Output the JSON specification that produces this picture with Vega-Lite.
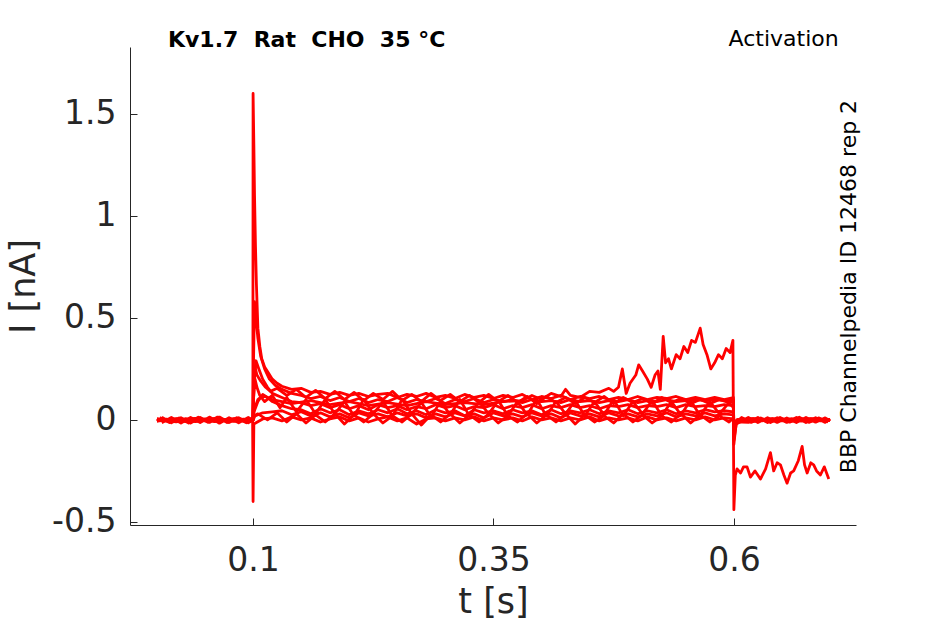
{
  "$schema": "https://vega.github.io/schema/vega-lite/v6.json",
  "width": 726,
  "height": 478,
  "autosize": {"type": "none"},
  "padding": {"left": 130, "top": 47, "right": 89, "bottom": 99},
  "background": "white",
  "config": {
    "view": {"stroke": null},
    "font": "DejaVu Sans",
    "axis": {
      "grid": false,
      "domainColor": "#262626",
      "tickColor": "#262626",
      "labelColor": "#262626",
      "titleColor": "#262626",
      "labelFont": "DejaVu Sans",
      "titleFont": "DejaVu Sans",
      "labelFontSize": 33,
      "titleFontSize": 35,
      "titleFontWeight": "normal",
      "tickSize": -7
    }
  },
  "layer": [
    {
      "data": {
        "values": [
          {"k":1,"t":0,"i":0.004},{"k":1,"t":0.01,"i":-0.006},{"k":1,"t":0.02,"i":0.005},{"k":1,"t":0.03,"i":-0.008},{"k":1,"t":0.04,"i":0.003},{"k":1,"t":0.05,"i":-0.005},{"k":1,"t":0.06,"i":0.006},{"k":1,"t":0.07,"i":-0.004},{"k":1,"t":0.08,"i":0.005},{"k":1,"t":0.09,"i":-0.006},{"k":1,"t":0.0998,"i":0.002},
          {"k":1,"t":0.1,"i":1.6},{"k":1,"t":0.1008,"i":1.35},{"k":1,"t":0.1015,"i":1.1},{"k":1,"t":0.1025,"i":0.85},{"k":1,"t":0.1035,"i":0.66},{"k":1,"t":0.105,"i":0.45},{"k":1,"t":0.107,"i":0.36},{"k":1,"t":0.109,"i":0.3},{"k":1,"t":0.112,"i":0.26},{"k":1,"t":0.116,"i":0.23},{"k":1,"t":0.12,"i":0.2},{"k":1,"t":0.125,"i":0.18},{"k":1,"t":0.13,"i":0.165},{"k":1,"t":0.14,"i":0.15},{"k":1,"t":0.15,"i":0.155},{"k":1,"t":0.16,"i":0.135},{"k":1,"t":0.17,"i":0.14},{"k":1,"t":0.18,"i":0.125},{"k":1,"t":0.19,"i":0.135},{"k":1,"t":0.2,"i":0.12},{"k":1,"t":0.21,"i":0.13},{"k":1,"t":0.22,"i":0.115},{"k":1,"t":0.23,"i":0.125},{"k":1,"t":0.24,"i":0.13},{"k":1,"t":0.25,"i":0.11},{"k":1,"t":0.26,"i":0.125},{"k":1,"t":0.27,"i":0.115},{"k":1,"t":0.28,"i":0.13},{"k":1,"t":0.29,"i":0.11},{"k":1,"t":0.3,"i":0.12},{"k":1,"t":0.31,"i":0.105},{"k":1,"t":0.32,"i":0.125},{"k":1,"t":0.33,"i":0.11},{"k":1,"t":0.34,"i":0.12},{"k":1,"t":0.35,"i":0.105},{"k":1,"t":0.36,"i":0.12},{"k":1,"t":0.37,"i":0.11},{"k":1,"t":0.38,"i":0.125},{"k":1,"t":0.39,"i":0.1},{"k":1,"t":0.4,"i":0.115},{"k":1,"t":0.41,"i":0.105},{"k":1,"t":0.42,"i":0.12},{"k":1,"t":0.43,"i":0.1},{"k":1,"t":0.44,"i":0.115},{"k":1,"t":0.45,"i":0.105},{"k":1,"t":0.46,"i":0.115},{"k":1,"t":0.47,"i":0.1},{"k":1,"t":0.48,"i":0.11},{"k":1,"t":0.49,"i":0.1},{"k":1,"t":0.5,"i":0.115},{"k":1,"t":0.51,"i":0.1},{"k":1,"t":0.52,"i":0.11},{"k":1,"t":0.53,"i":0.105},{"k":1,"t":0.54,"i":0.115},{"k":1,"t":0.55,"i":0.1},{"k":1,"t":0.56,"i":0.11},{"k":1,"t":0.57,"i":0.1},{"k":1,"t":0.58,"i":0.11},{"k":1,"t":0.59,"i":0.1},{"k":1,"t":0.5995,"i":0.11},
          {"k":1,"t":0.6,"i":-0.08},{"k":1,"t":0.602,"i":-0.01},{"k":1,"t":0.61,"i":0.005},{"k":1,"t":0.62,"i":-0.006},{"k":1,"t":0.63,"i":0.004},{"k":1,"t":0.64,"i":-0.005},{"k":1,"t":0.65,"i":0.005},{"k":1,"t":0.66,"i":-0.004},{"k":1,"t":0.67,"i":0.006},{"k":1,"t":0.68,"i":-0.005},{"k":1,"t":0.69,"i":0.004},{"k":1,"t":0.7,"i":-0.003},

          {"k":2,"t":0,"i":-0.005},{"k":2,"t":0.01,"i":0.004},{"k":2,"t":0.02,"i":-0.007},{"k":2,"t":0.03,"i":0.006},{"k":2,"t":0.04,"i":-0.004},{"k":2,"t":0.05,"i":0.005},{"k":2,"t":0.06,"i":-0.008},{"k":2,"t":0.07,"i":0.003},{"k":2,"t":0.08,"i":-0.006},{"k":2,"t":0.09,"i":0.004},{"k":2,"t":0.0998,"i":-0.002},
          {"k":2,"t":0.1005,"i":0.3},{"k":2,"t":0.1015,"i":0.58},{"k":2,"t":0.103,"i":0.5},{"k":2,"t":0.105,"i":0.4},{"k":2,"t":0.108,"i":0.31},{"k":2,"t":0.112,"i":0.25},{"k":2,"t":0.117,"i":0.2},{"k":2,"t":0.123,"i":0.17},{"k":2,"t":0.13,"i":0.15},{"k":2,"t":0.14,"i":0.13},{"k":2,"t":0.15,"i":0.12},{"k":2,"t":0.16,"i":0.105},{"k":2,"t":0.17,"i":0.115},{"k":2,"t":0.18,"i":0.095},{"k":2,"t":0.19,"i":0.11},{"k":2,"t":0.2,"i":0.09},{"k":2,"t":0.21,"i":0.105},{"k":2,"t":0.22,"i":0.085},{"k":2,"t":0.23,"i":0.1},{"k":2,"t":0.24,"i":0.09},{"k":2,"t":0.25,"i":0.11},{"k":2,"t":0.26,"i":0.085},{"k":2,"t":0.27,"i":0.1},{"k":2,"t":0.28,"i":0.09},{"k":2,"t":0.29,"i":0.105},{"k":2,"t":0.3,"i":0.08},{"k":2,"t":0.31,"i":0.1},{"k":2,"t":0.32,"i":0.09},{"k":2,"t":0.33,"i":0.105},{"k":2,"t":0.34,"i":0.085},{"k":2,"t":0.35,"i":0.1},{"k":2,"t":0.36,"i":0.09},{"k":2,"t":0.37,"i":0.1},{"k":2,"t":0.38,"i":0.085},{"k":2,"t":0.39,"i":0.1},{"k":2,"t":0.4,"i":0.09},{"k":2,"t":0.41,"i":0.095},{"k":2,"t":0.42,"i":0.085},{"k":2,"t":0.43,"i":0.1},{"k":2,"t":0.44,"i":0.09},{"k":2,"t":0.45,"i":0.095},{"k":2,"t":0.46,"i":0.085},{"k":2,"t":0.47,"i":0.095},{"k":2,"t":0.48,"i":0.09},{"k":2,"t":0.49,"i":0.1},{"k":2,"t":0.5,"i":0.085},{"k":2,"t":0.51,"i":0.095},{"k":2,"t":0.52,"i":0.09},{"k":2,"t":0.53,"i":0.1},{"k":2,"t":0.54,"i":0.09},{"k":2,"t":0.55,"i":0.095},{"k":2,"t":0.56,"i":0.1},{"k":2,"t":0.57,"i":0.095},{"k":2,"t":0.58,"i":0.1},{"k":2,"t":0.59,"i":0.095},{"k":2,"t":0.5995,"i":0.1},
          {"k":2,"t":0.6,"i":-0.05},{"k":2,"t":0.603,"i":0},{"k":2,"t":0.61,"i":-0.006},{"k":2,"t":0.62,"i":0.005},{"k":2,"t":0.63,"i":-0.004},{"k":2,"t":0.64,"i":0.006},{"k":2,"t":0.65,"i":-0.005},{"k":2,"t":0.66,"i":0.004},{"k":2,"t":0.67,"i":-0.006},{"k":2,"t":0.68,"i":0.005},{"k":2,"t":0.69,"i":-0.004},{"k":2,"t":0.7,"i":0.003},

          {"k":3,"t":0,"i":0.006},{"k":3,"t":0.02,"i":-0.006},{"k":3,"t":0.04,"i":0.004},{"k":3,"t":0.06,"i":-0.005},{"k":3,"t":0.08,"i":0.005},{"k":3,"t":0.0998,"i":0},
          {"k":3,"t":0.101,"i":0.18},{"k":3,"t":0.103,"i":0.29},{"k":3,"t":0.106,"i":0.25},{"k":3,"t":0.11,"i":0.2},{"k":3,"t":0.115,"i":0.16},{"k":3,"t":0.12,"i":0.13},{"k":3,"t":0.13,"i":0.11},{"k":3,"t":0.14,"i":0.09},{"k":3,"t":0.15,"i":0.085},{"k":3,"t":0.16,"i":0.07},{"k":3,"t":0.17,"i":0.08},{"k":3,"t":0.18,"i":0.06},{"k":3,"t":0.19,"i":0.075},{"k":3,"t":0.2,"i":0.055},{"k":3,"t":0.21,"i":0.07},{"k":3,"t":0.22,"i":0.05},{"k":3,"t":0.23,"i":0.075},{"k":3,"t":0.24,"i":0.06},{"k":3,"t":0.25,"i":0.07},{"k":3,"t":0.26,"i":0.05},{"k":3,"t":0.27,"i":0.065},{"k":3,"t":0.28,"i":0.055},{"k":3,"t":0.29,"i":0.075},{"k":3,"t":0.3,"i":0.06},{"k":3,"t":0.31,"i":0.07},{"k":3,"t":0.32,"i":0.05},{"k":3,"t":0.33,"i":0.065},{"k":3,"t":0.34,"i":0.06},{"k":3,"t":0.35,"i":0.075},{"k":3,"t":0.36,"i":0.055},{"k":3,"t":0.37,"i":0.07},{"k":3,"t":0.38,"i":0.06},{"k":3,"t":0.39,"i":0.075},{"k":3,"t":0.4,"i":0.055},{"k":3,"t":0.41,"i":0.07},{"k":3,"t":0.42,"i":0.06},{"k":3,"t":0.43,"i":0.075},{"k":3,"t":0.44,"i":0.06},{"k":3,"t":0.45,"i":0.07},{"k":3,"t":0.46,"i":0.055},{"k":3,"t":0.47,"i":0.07},{"k":3,"t":0.48,"i":0.065},{"k":3,"t":0.49,"i":0.075},{"k":3,"t":0.5,"i":0.06},{"k":3,"t":0.51,"i":0.07},{"k":3,"t":0.52,"i":0.065},{"k":3,"t":0.53,"i":0.075},{"k":3,"t":0.54,"i":0.06},{"k":3,"t":0.55,"i":0.075},{"k":3,"t":0.56,"i":0.065},{"k":3,"t":0.57,"i":0.07},{"k":3,"t":0.58,"i":0.065},{"k":3,"t":0.59,"i":0.075},{"k":3,"t":0.5995,"i":0.07},
          {"k":3,"t":0.6,"i":-0.03},{"k":3,"t":0.604,"i":0},{"k":3,"t":0.62,"i":0.005},{"k":3,"t":0.64,"i":-0.005},{"k":3,"t":0.66,"i":0.004},{"k":3,"t":0.68,"i":-0.004},{"k":3,"t":0.7,"i":0.002},

          {"k":4,"t":0,"i":-0.004},{"k":4,"t":0.02,"i":0.005},{"k":4,"t":0.04,"i":-0.008},{"k":4,"t":0.06,"i":0.004},{"k":4,"t":0.08,"i":-0.006},{"k":4,"t":0.0998,"i":0.002},
          {"k":4,"t":0.101,"i":0.04},{"k":4,"t":0.105,"i":0.09},{"k":4,"t":0.11,"i":0.125},{"k":4,"t":0.115,"i":0.11},{"k":4,"t":0.12,"i":0.09},{"k":4,"t":0.13,"i":0.07},{"k":4,"t":0.14,"i":0.055},{"k":4,"t":0.15,"i":0.05},{"k":4,"t":0.16,"i":0.03},{"k":4,"t":0.17,"i":0.055},{"k":4,"t":0.18,"i":0.035},{"k":4,"t":0.19,"i":0.05},{"k":4,"t":0.2,"i":0.025},{"k":4,"t":0.21,"i":0.045},{"k":4,"t":0.22,"i":0.03},{"k":4,"t":0.23,"i":0.05},{"k":4,"t":0.24,"i":0.035},{"k":4,"t":0.25,"i":0.055},{"k":4,"t":0.26,"i":0.03},{"k":4,"t":0.27,"i":0.045},{"k":4,"t":0.28,"i":0.025},{"k":4,"t":0.29,"i":0.05},{"k":4,"t":0.3,"i":0.035},{"k":4,"t":0.31,"i":0.045},{"k":4,"t":0.32,"i":0.02},{"k":4,"t":0.33,"i":0.05},{"k":4,"t":0.34,"i":0.035},{"k":4,"t":0.35,"i":0.045},{"k":4,"t":0.36,"i":0.03},{"k":4,"t":0.37,"i":0.05},{"k":4,"t":0.38,"i":0.035},{"k":4,"t":0.39,"i":0.045},{"k":4,"t":0.4,"i":0.025},{"k":4,"t":0.41,"i":0.05},{"k":4,"t":0.42,"i":0.03},{"k":4,"t":0.43,"i":0.045},{"k":4,"t":0.44,"i":0.035},{"k":4,"t":0.45,"i":0.05},{"k":4,"t":0.46,"i":0.03},{"k":4,"t":0.47,"i":0.045},{"k":4,"t":0.48,"i":0.035},{"k":4,"t":0.49,"i":0.05},{"k":4,"t":0.5,"i":0.03},{"k":4,"t":0.51,"i":0.045},{"k":4,"t":0.52,"i":0.035},{"k":4,"t":0.53,"i":0.05},{"k":4,"t":0.54,"i":0.03},{"k":4,"t":0.55,"i":0.045},{"k":4,"t":0.56,"i":0.035},{"k":4,"t":0.57,"i":0.05},{"k":4,"t":0.58,"i":0.04},{"k":4,"t":0.59,"i":0.045},{"k":4,"t":0.5995,"i":0.04},
          {"k":4,"t":0.6,"i":-0.06},{"k":4,"t":0.603,"i":-0.005},{"k":4,"t":0.62,"i":0.006},{"k":4,"t":0.64,"i":-0.004},{"k":4,"t":0.66,"i":0.005},{"k":4,"t":0.68,"i":-0.005},{"k":4,"t":0.7,"i":0.003},

          {"k":5,"t":0,"i":0.003},{"k":5,"t":0.02,"i":-0.009},{"k":5,"t":0.04,"i":0.006},{"k":5,"t":0.06,"i":-0.004},{"k":5,"t":0.08,"i":0.004},{"k":5,"t":0.0998,"i":-0.003},
          {"k":5,"t":0.102,"i":0.02},{"k":5,"t":0.11,"i":0.035},{"k":5,"t":0.12,"i":0.04},{"k":5,"t":0.13,"i":0.045},{"k":5,"t":0.14,"i":0.025},{"k":5,"t":0.15,"i":0.04},{"k":5,"t":0.16,"i":0.02},{"k":5,"t":0.17,"i":0.035},{"k":5,"t":0.18,"i":0.015},{"k":5,"t":0.19,"i":0.03},{"k":5,"t":0.2,"i":0.01},{"k":5,"t":0.21,"i":0.035},{"k":5,"t":0.22,"i":0.02},{"k":5,"t":0.23,"i":0.03},{"k":5,"t":0.24,"i":0.015},{"k":5,"t":0.25,"i":0.035},{"k":5,"t":0.26,"i":0.02},{"k":5,"t":0.27,"i":0.03},{"k":5,"t":0.28,"i":0.01},{"k":5,"t":0.29,"i":0.03},{"k":5,"t":0.3,"i":0.015},{"k":5,"t":0.31,"i":0.035},{"k":5,"t":0.32,"i":0.02},{"k":5,"t":0.33,"i":0.03},{"k":5,"t":0.34,"i":0.01},{"k":5,"t":0.35,"i":0.035},{"k":5,"t":0.36,"i":0.02},{"k":5,"t":0.37,"i":0.03},{"k":5,"t":0.38,"i":0.015},{"k":5,"t":0.39,"i":0.035},{"k":5,"t":0.4,"i":0.02},{"k":5,"t":0.41,"i":0.03},{"k":5,"t":0.42,"i":0.01},{"k":5,"t":0.43,"i":0.035},{"k":5,"t":0.44,"i":0.02},{"k":5,"t":0.45,"i":0.03},{"k":5,"t":0.46,"i":0.015},{"k":5,"t":0.47,"i":0.035},{"k":5,"t":0.48,"i":0.02},{"k":5,"t":0.49,"i":0.03},{"k":5,"t":0.5,"i":0.015},{"k":5,"t":0.51,"i":0.03},{"k":5,"t":0.52,"i":0.02},{"k":5,"t":0.53,"i":0.035},{"k":5,"t":0.54,"i":0.015},{"k":5,"t":0.55,"i":0.03},{"k":5,"t":0.56,"i":0.02},{"k":5,"t":0.57,"i":0.035},{"k":5,"t":0.58,"i":0.02},{"k":5,"t":0.59,"i":0.03},{"k":5,"t":0.5995,"i":0.025},
          {"k":5,"t":0.6,"i":-0.02},{"k":5,"t":0.604,"i":0},{"k":5,"t":0.62,"i":-0.005},{"k":5,"t":0.64,"i":0.005},{"k":5,"t":0.66,"i":-0.006},{"k":5,"t":0.68,"i":0.004},{"k":5,"t":0.7,"i":-0.002},

          {"k":6,"t":0,"i":-0.006},{"k":6,"t":0.02,"i":0.004},{"k":6,"t":0.04,"i":-0.005},{"k":6,"t":0.06,"i":0.006},{"k":6,"t":0.08,"i":-0.005},{"k":6,"t":0.0995,"i":0.001},
          {"k":6,"t":0.1,"i":-0.4},{"k":6,"t":0.1008,"i":-0.02},{"k":6,"t":0.11,"i":0.005},{"k":6,"t":0.12,"i":0.01},{"k":6,"t":0.13,"i":-0.005},{"k":6,"t":0.14,"i":0.015},{"k":6,"t":0.15,"i":0},{"k":6,"t":0.16,"i":0.01},{"k":6,"t":0.17,"i":-0.01},{"k":6,"t":0.18,"i":0.005},{"k":6,"t":0.19,"i":0.015},{"k":6,"t":0.2,"i":-0.005},{"k":6,"t":0.21,"i":0.01},{"k":6,"t":0.22,"i":-0.01},{"k":6,"t":0.23,"i":0.005},{"k":6,"t":0.24,"i":0.015},{"k":6,"t":0.25,"i":-0.005},{"k":6,"t":0.26,"i":0.01},{"k":6,"t":0.27,"i":-0.02},{"k":6,"t":0.28,"i":0.005},{"k":6,"t":0.29,"i":0.01},{"k":6,"t":0.3,"i":-0.005},{"k":6,"t":0.31,"i":0.01},{"k":6,"t":0.32,"i":0},{"k":6,"t":0.33,"i":0.015},{"k":6,"t":0.34,"i":-0.005},{"k":6,"t":0.35,"i":0.01},{"k":6,"t":0.36,"i":0},{"k":6,"t":0.37,"i":0.01},{"k":6,"t":0.38,"i":-0.005},{"k":6,"t":0.39,"i":0.015},{"k":6,"t":0.4,"i":0},{"k":6,"t":0.41,"i":0.01},{"k":6,"t":0.42,"i":-0.005},{"k":6,"t":0.43,"i":0.01},{"k":6,"t":0.44,"i":0},{"k":6,"t":0.45,"i":0.015},{"k":6,"t":0.46,"i":-0.005},{"k":6,"t":0.47,"i":0.01},{"k":6,"t":0.48,"i":0},{"k":6,"t":0.49,"i":0.01},{"k":6,"t":0.5,"i":-0.005},{"k":6,"t":0.51,"i":0.015},{"k":6,"t":0.52,"i":0},{"k":6,"t":0.53,"i":0.01},{"k":6,"t":0.54,"i":-0.005},{"k":6,"t":0.55,"i":0.01},{"k":6,"t":0.56,"i":0},{"k":6,"t":0.57,"i":0.015},{"k":6,"t":0.58,"i":0},{"k":6,"t":0.59,"i":0.01},{"k":6,"t":0.5995,"i":0.005},
          {"k":6,"t":0.6,"i":-0.02},{"k":6,"t":0.604,"i":0.002},{"k":6,"t":0.62,"i":-0.006},{"k":6,"t":0.64,"i":0.004},{"k":6,"t":0.66,"i":-0.005},{"k":6,"t":0.68,"i":0.006},{"k":6,"t":0.7,"i":0},

          {"k":7,"t":0,"i":0.002},{"k":7,"t":0.02,"i":-0.006},{"k":7,"t":0.04,"i":0.007},{"k":7,"t":0.06,"i":-0.006},{"k":7,"t":0.08,"i":0.003},{"k":7,"t":0.0998,"i":-0.004},
          {"k":7,"t":0.101,"i":0.05},{"k":7,"t":0.105,"i":0.1},{"k":7,"t":0.11,"i":0.12},{"k":7,"t":0.12,"i":0.1},{"k":7,"t":0.13,"i":0.09},{"k":7,"t":0.14,"i":0.08},{"k":7,"t":0.16,"i":0.095},{"k":7,"t":0.18,"i":0.075},{"k":7,"t":0.2,"i":0.09},{"k":7,"t":0.22,"i":0.07},{"k":7,"t":0.24,"i":0.085},{"k":7,"t":0.26,"i":0.07},{"k":7,"t":0.28,"i":0.09},{"k":7,"t":0.3,"i":0.075},{"k":7,"t":0.32,"i":0.085},{"k":7,"t":0.34,"i":0.075},{"k":7,"t":0.36,"i":0.09},{"k":7,"t":0.38,"i":0.095},{"k":7,"t":0.39,"i":0.12},{"k":7,"t":0.4,"i":0.1},{"k":7,"t":0.41,"i":0.13},{"k":7,"t":0.42,"i":0.115},{"k":7,"t":0.425,"i":0.15},{"k":7,"t":0.43,"i":0.12},{"k":7,"t":0.44,"i":0.11},{"k":7,"t":0.45,"i":0.14},{"k":7,"t":0.46,"i":0.135},{"k":7,"t":0.47,"i":0.155},{"k":7,"t":0.475,"i":0.14},{"k":7,"t":0.48,"i":0.16},{"k":7,"t":0.484,"i":0.25},{"k":7,"t":0.488,"i":0.13},{"k":7,"t":0.492,"i":0.18},{"k":7,"t":0.498,"i":0.22},{"k":7,"t":0.501,"i":0.27},{"k":7,"t":0.505,"i":0.24},{"k":7,"t":0.51,"i":0.2},{"k":7,"t":0.514,"i":0.16},{"k":7,"t":0.518,"i":0.22},{"k":7,"t":0.521,"i":0.24},{"k":7,"t":0.5235,"i":0.15},{"k":7,"t":0.5265,"i":0.41},{"k":7,"t":0.529,"i":0.28},{"k":7,"t":0.532,"i":0.3},{"k":7,"t":0.535,"i":0.25},{"k":7,"t":0.54,"i":0.32},{"k":7,"t":0.544,"i":0.3},{"k":7,"t":0.548,"i":0.36},{"k":7,"t":0.552,"i":0.33},{"k":7,"t":0.556,"i":0.39},{"k":7,"t":0.56,"i":0.38},{"k":7,"t":0.565,"i":0.45},{"k":7,"t":0.568,"i":0.37},{"k":7,"t":0.572,"i":0.32},{"k":7,"t":0.576,"i":0.25},{"k":7,"t":0.58,"i":0.28},{"k":7,"t":0.584,"i":0.32},{"k":7,"t":0.588,"i":0.3},{"k":7,"t":0.592,"i":0.35},{"k":7,"t":0.596,"i":0.33},{"k":7,"t":0.599,"i":0.39},
          {"k":7,"t":0.6,"i":-0.44},{"k":7,"t":0.6015,"i":-0.27},{"k":7,"t":0.6033,"i":-0.24},{"k":7,"t":0.607,"i":-0.26},{"k":7,"t":0.61,"i":-0.23},{"k":7,"t":0.6137,"i":-0.23},{"k":7,"t":0.6172,"i":-0.28},{"k":7,"t":0.622,"i":-0.25},{"k":7,"t":0.6276,"i":-0.29},{"k":7,"t":0.633,"i":-0.24},{"k":7,"t":0.638,"i":-0.16},{"k":7,"t":0.6414,"i":-0.25},{"k":7,"t":0.645,"i":-0.21},{"k":7,"t":0.6484,"i":-0.22},{"k":7,"t":0.652,"i":-0.27},{"k":7,"t":0.6553,"i":-0.31},{"k":7,"t":0.659,"i":-0.26},{"k":7,"t":0.6622,"i":-0.25},{"k":7,"t":0.667,"i":-0.2},{"k":7,"t":0.671,"i":-0.13},{"k":7,"t":0.6735,"i":-0.22},{"k":7,"t":0.6762,"i":-0.26},{"k":7,"t":0.68,"i":-0.21},{"k":7,"t":0.683,"i":-0.22},{"k":7,"t":0.686,"i":-0.25},{"k":7,"t":0.69,"i":-0.27},{"k":7,"t":0.694,"i":-0.23},{"k":7,"t":0.6987,"i":-0.29},

          {"k":8,"t":0.005,"i":0.013},{"k":8,"t":0.015,"i":-0.014},{"k":8,"t":0.025,"i":0.011},{"k":8,"t":0.035,"i":-0.015},{"k":8,"t":0.045,"i":0.012},{"k":8,"t":0.055,"i":-0.012},{"k":8,"t":0.065,"i":0.014},{"k":8,"t":0.075,"i":-0.013},{"k":8,"t":0.085,"i":0.011},{"k":8,"t":0.095,"i":-0.014},{"k":8,"t":0.0999,"i":0},
          {"k":8,"t":0.1003,"i":0.15},{"k":8,"t":0.102,"i":0.26},{"k":8,"t":0.104,"i":0.22},{"k":8,"t":0.108,"i":0.19},{"k":8,"t":0.113,"i":0.16},{"k":8,"t":0.118,"i":0.14},{"k":8,"t":0.125,"i":0.155},{"k":8,"t":0.135,"i":0.12},{"k":8,"t":0.145,"i":0.15},{"k":8,"t":0.155,"i":0.11},{"k":8,"t":0.165,"i":0.145},{"k":8,"t":0.175,"i":0.105},{"k":8,"t":0.185,"i":0.14},{"k":8,"t":0.195,"i":0.1},{"k":8,"t":0.205,"i":0.135},{"k":8,"t":0.215,"i":0.095},{"k":8,"t":0.225,"i":0.13},{"k":8,"t":0.235,"i":0.1},{"k":8,"t":0.245,"i":0.14},{"k":8,"t":0.255,"i":0.095},{"k":8,"t":0.265,"i":0.125},{"k":8,"t":0.275,"i":0.09},{"k":8,"t":0.285,"i":0.13},{"k":8,"t":0.295,"i":0.095},{"k":8,"t":0.305,"i":0.125},{"k":8,"t":0.315,"i":0.09},{"k":8,"t":0.325,"i":0.12},{"k":8,"t":0.335,"i":0.085},{"k":8,"t":0.345,"i":0.125},{"k":8,"t":0.355,"i":0.09},{"k":8,"t":0.365,"i":0.12},{"k":8,"t":0.375,"i":0.085},{"k":8,"t":0.385,"i":0.115},{"k":8,"t":0.395,"i":0.08},{"k":8,"t":0.405,"i":0.115},{"k":8,"t":0.415,"i":0.085},{"k":8,"t":0.425,"i":0.11},{"k":8,"t":0.435,"i":0.08},{"k":8,"t":0.445,"i":0.11},{"k":8,"t":0.455,"i":0.085},{"k":8,"t":0.465,"i":0.115},{"k":8,"t":0.475,"i":0.08},{"k":8,"t":0.485,"i":0.11},{"k":8,"t":0.495,"i":0.085},{"k":8,"t":0.505,"i":0.105},{"k":8,"t":0.515,"i":0.08},{"k":8,"t":0.525,"i":0.11},{"k":8,"t":0.535,"i":0.085},{"k":8,"t":0.545,"i":0.105},{"k":8,"t":0.555,"i":0.08},{"k":8,"t":0.565,"i":0.1},{"k":8,"t":0.575,"i":0.08},{"k":8,"t":0.585,"i":0.1},{"k":8,"t":0.595,"i":0.085},{"k":8,"t":0.5995,"i":0.09},
          {"k":8,"t":0.6,"i":-0.1},{"k":8,"t":0.6025,"i":-0.02},{"k":8,"t":0.615,"i":0.012},{"k":8,"t":0.625,"i":-0.013},{"k":8,"t":0.635,"i":0.011},{"k":8,"t":0.645,"i":-0.012},{"k":8,"t":0.655,"i":0.01},{"k":8,"t":0.665,"i":-0.013},{"k":8,"t":0.675,"i":0.012},{"k":8,"t":0.685,"i":-0.011},{"k":8,"t":0.695,"i":0.01},{"k":8,"t":0.7,"i":-0.004},

          {"k":9,"t":0.005,"i":-0.014},{"k":9,"t":0.015,"i":0.012},{"k":9,"t":0.025,"i":-0.015},{"k":9,"t":0.035,"i":0.012},{"k":9,"t":0.045,"i":-0.013},{"k":9,"t":0.055,"i":0.014},{"k":9,"t":0.065,"i":-0.016},{"k":9,"t":0.075,"i":0.011},{"k":9,"t":0.085,"i":-0.014},{"k":9,"t":0.095,"i":0.012},{"k":9,"t":0.0999,"i":0},
          {"k":9,"t":0.101,"i":0.02},{"k":9,"t":0.105,"i":0.03},{"k":9,"t":0.115,"i":0},{"k":9,"t":0.125,"i":0.035},{"k":9,"t":0.135,"i":-0.01},{"k":9,"t":0.145,"i":0.03},{"k":9,"t":0.155,"i":-0.015},{"k":9,"t":0.165,"i":0.025},{"k":9,"t":0.175,"i":-0.01},{"k":9,"t":0.185,"i":0.03},{"k":9,"t":0.195,"i":-0.02},{"k":9,"t":0.205,"i":0.025},{"k":9,"t":0.215,"i":-0.01},{"k":9,"t":0.225,"i":0.03},{"k":9,"t":0.235,"i":-0.015},{"k":9,"t":0.245,"i":0.02},{"k":9,"t":0.255,"i":-0.01},{"k":9,"t":0.265,"i":0.03},{"k":9,"t":0.275,"i":-0.025},{"k":9,"t":0.285,"i":0.025},{"k":9,"t":0.295,"i":-0.01},{"k":9,"t":0.305,"i":0.03},{"k":9,"t":0.315,"i":-0.015},{"k":9,"t":0.325,"i":0.025},{"k":9,"t":0.335,"i":-0.01},{"k":9,"t":0.345,"i":0.03},{"k":9,"t":0.355,"i":-0.015},{"k":9,"t":0.365,"i":0.02},{"k":9,"t":0.375,"i":-0.01},{"k":9,"t":0.385,"i":0.03},{"k":9,"t":0.395,"i":-0.015},{"k":9,"t":0.405,"i":0.025},{"k":9,"t":0.415,"i":-0.01},{"k":9,"t":0.425,"i":0.03},{"k":9,"t":0.435,"i":-0.02},{"k":9,"t":0.445,"i":0.025},{"k":9,"t":0.455,"i":-0.01},{"k":9,"t":0.465,"i":0.02},{"k":9,"t":0.475,"i":-0.015},{"k":9,"t":0.485,"i":0.03},{"k":9,"t":0.495,"i":-0.01},{"k":9,"t":0.505,"i":0.025},{"k":9,"t":0.515,"i":-0.015},{"k":9,"t":0.525,"i":0.02},{"k":9,"t":0.535,"i":-0.01},{"k":9,"t":0.545,"i":0.03},{"k":9,"t":0.555,"i":-0.015},{"k":9,"t":0.565,"i":0.025},{"k":9,"t":0.575,"i":-0.01},{"k":9,"t":0.585,"i":0.02},{"k":9,"t":0.595,"i":-0.01},{"k":9,"t":0.5995,"i":0.01},
          {"k":9,"t":0.6,"i":-0.12},{"k":9,"t":0.6025,"i":-0.01},{"k":9,"t":0.615,"i":-0.012},{"k":9,"t":0.625,"i":0.012},{"k":9,"t":0.635,"i":-0.013},{"k":9,"t":0.645,"i":0.011},{"k":9,"t":0.655,"i":-0.012},{"k":9,"t":0.665,"i":0.012},{"k":9,"t":0.675,"i":-0.013},{"k":9,"t":0.685,"i":0.011},{"k":9,"t":0.695,"i":-0.012},{"k":9,"t":0.7,"i":0.003},

          {"k":10,"t":0.003,"i":0.012},{"k":10,"t":0.013,"i":-0.013},{"k":10,"t":0.023,"i":0.01},{"k":10,"t":0.033,"i":-0.015},{"k":10,"t":0.043,"i":0.013},{"k":10,"t":0.053,"i":-0.012},{"k":10,"t":0.063,"i":0.014},{"k":10,"t":0.073,"i":-0.013},{"k":10,"t":0.083,"i":0.011},{"k":10,"t":0.093,"i":-0.014},{"k":10,"t":0.0999,"i":0},
          {"k":10,"t":0.1004,"i":0.1},{"k":10,"t":0.102,"i":0.2},{"k":10,"t":0.104,"i":0.16},{"k":10,"t":0.107,"i":0.12},{"k":10,"t":0.112,"i":0.09},{"k":10,"t":0.12,"i":0.12},{"k":10,"t":0.128,"i":0.06},{"k":10,"t":0.135,"i":0.11},{"k":10,"t":0.145,"i":0.04},{"k":10,"t":0.155,"i":0.1},{"k":10,"t":0.165,"i":0.03},{"k":10,"t":0.175,"i":0.1},{"k":10,"t":0.185,"i":0.03},{"k":10,"t":0.195,"i":0.09},{"k":10,"t":0.205,"i":0.02},{"k":10,"t":0.215,"i":0.1},{"k":10,"t":0.225,"i":0.03},{"k":10,"t":0.235,"i":0.09},{"k":10,"t":0.245,"i":0.02},{"k":10,"t":0.255,"i":0.1},{"k":10,"t":0.265,"i":0.03},{"k":10,"t":0.275,"i":0.085},{"k":10,"t":0.285,"i":0.015},{"k":10,"t":0.295,"i":0.09},{"k":10,"t":0.305,"i":0.025},{"k":10,"t":0.315,"i":0.1},{"k":10,"t":0.325,"i":0.02},{"k":10,"t":0.335,"i":0.09},{"k":10,"t":0.345,"i":0.03},{"k":10,"t":0.355,"i":0.095},{"k":10,"t":0.365,"i":0.02},{"k":10,"t":0.375,"i":0.09},{"k":10,"t":0.385,"i":0.025},{"k":10,"t":0.395,"i":0.1},{"k":10,"t":0.405,"i":0.02},{"k":10,"t":0.415,"i":0.09},{"k":10,"t":0.425,"i":0.03},{"k":10,"t":0.435,"i":0.095},{"k":10,"t":0.445,"i":0.02},{"k":10,"t":0.455,"i":0.09},{"k":10,"t":0.465,"i":0.025},{"k":10,"t":0.475,"i":0.1},{"k":10,"t":0.485,"i":0.02},{"k":10,"t":0.495,"i":0.09},{"k":10,"t":0.505,"i":0.03},{"k":10,"t":0.515,"i":0.095},{"k":10,"t":0.525,"i":0.02},{"k":10,"t":0.535,"i":0.09},{"k":10,"t":0.545,"i":0.025},{"k":10,"t":0.555,"i":0.095},{"k":10,"t":0.565,"i":0.02},{"k":10,"t":0.575,"i":0.09},{"k":10,"t":0.585,"i":0.03},{"k":10,"t":0.595,"i":0.085},{"k":10,"t":0.5995,"i":0.06},
          {"k":10,"t":0.6,"i":-0.07},{"k":10,"t":0.6025,"i":-0.01},{"k":10,"t":0.608,"i":0.012},{"k":10,"t":0.618,"i":-0.012},{"k":10,"t":0.628,"i":0.01},{"k":10,"t":0.638,"i":-0.013},{"k":10,"t":0.648,"i":0.012},{"k":10,"t":0.658,"i":-0.011},{"k":10,"t":0.668,"i":0.013},{"k":10,"t":0.678,"i":-0.012},{"k":10,"t":0.688,"i":0.01},{"k":10,"t":0.698,"i":-0.01}
        ]
      },
      "mark": {"type": "line", "color": "#ff0000", "strokeWidth": 2.8, "strokeJoin": "round"},
      "encoding": {
        "x": {
          "field": "t",
          "type": "quantitative",
          "scale": {"domain": [-0.028, 0.727], "nice": false, "zero": false},
          "axis": {"values": [0.1, 0.35, 0.6], "format": "~g", "title": "t [s]", "labelPadding": 26, "titlePadding": 7}
        },
        "y": {
          "field": "i",
          "type": "quantitative",
          "scale": {"domain": [-0.515, 1.828], "nice": false, "zero": false},
          "axis": {"values": [-0.5, 0, 0.5, 1, 1.5], "labelExpr": "datum.value < 0 ? '-0.5' : format(datum.value, '~g')", "title": "I [nA]", "labelPadding": 21, "titlePadding": 10}
        },
        "detail": {"field": "k", "type": "nominal"}
      }
    },
    {
      "data": {"values": [{}]},
      "mark": {"type": "text", "text": "Kv1.7\u00a0\u00a0Rat\u00a0\u00a0CHO\u00a0\u00a035 °C", "align": "left", "baseline": "middle", "fontSize": 22, "fontWeight": "bold", "font": "DejaVu Sans", "color": "black"},
      "encoding": {
        "x": {"datum": 0.0115, "type": "quantitative"},
        "y": {"datum": 1.863, "type": "quantitative"}
      }
    },
    {
      "data": {"values": [{}]},
      "mark": {"type": "text", "text": "Activation", "align": "right", "baseline": "middle", "fontSize": 22, "font": "DejaVu Sans", "color": "black"},
      "encoding": {
        "x": {"datum": 0.709, "type": "quantitative"},
        "y": {"datum": 1.868, "type": "quantitative"}
      }
    },
    {
      "data": {"values": [{}]},
      "mark": {"type": "text", "text": "BBP Channelpedia ID 12468 rep 2", "align": "center", "baseline": "middle", "angle": 270, "fontSize": 22, "font": "DejaVu Sans", "color": "black"},
      "encoding": {
        "x": {"datum": 0.7202, "type": "quantitative"},
        "y": {"datum": 0.654, "type": "quantitative"}
      }
    }
  ]
}
